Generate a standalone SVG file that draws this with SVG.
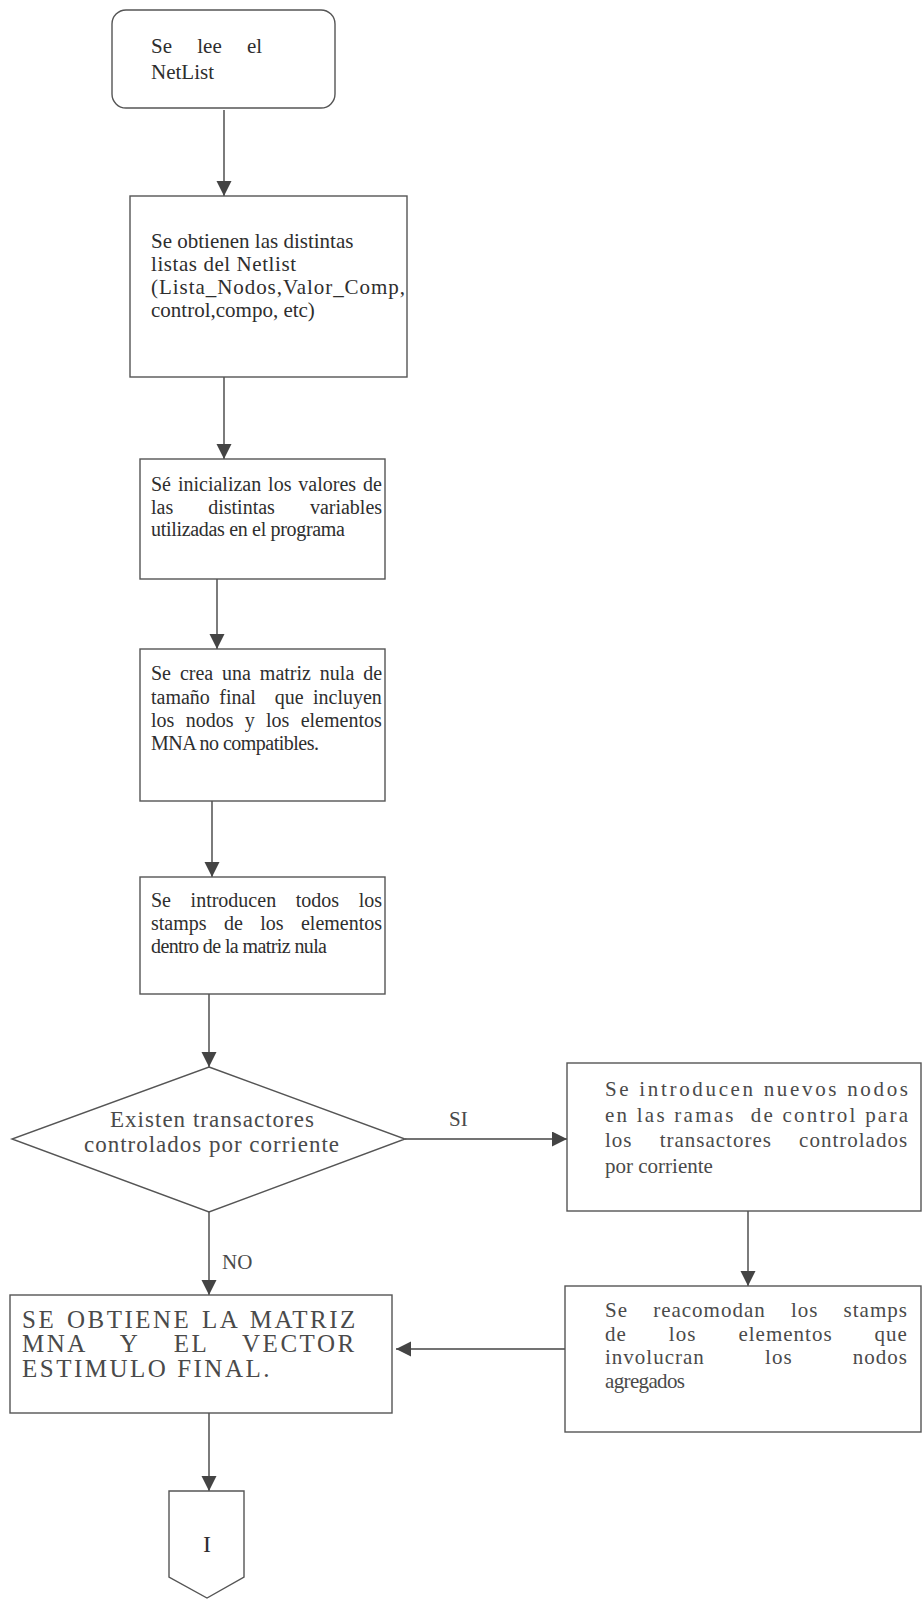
<svg xmlns="http://www.w3.org/2000/svg" width="923" height="1599" viewBox="0 0 923 1599">
<defs>
<style>
.box{fill:#fff;stroke:#555;stroke-width:1.4}
.t{font-family:"Liberation Serif","Times New Roman",serif;font-size:21px;fill:#2e2e2e}
.t2{font-family:"Liberation Serif","Times New Roman",serif;font-size:20px;fill:#2e2e2e}
.tl{font-family:"Liberation Serif","Times New Roman",serif;font-size:21px;fill:#4a4a4a}
.cap{font-family:"Liberation Serif","Times New Roman",serif;font-size:25px;fill:#4a4a4a;letter-spacing:2.5px}
.c{stroke:#444;stroke-width:1.4;fill:none;marker-end:url(#ah)}
</style>
<marker id="ah" markerUnits="userSpaceOnUse" markerWidth="16" markerHeight="16" refX="15" refY="7.5" orient="auto">
<path d="M0,0 L15,7.5 L0,15 z" fill="#444"/>
</marker>
</defs>
<rect width="923" height="1599" fill="#fff"/>

<g id="connectors">
<line class="c" x1="224" y1="110" x2="224" y2="196"/>
<line class="c" x1="224" y1="377" x2="224" y2="459"/>
<line class="c" x1="217" y1="579" x2="217" y2="649"/>
<line class="c" x1="212" y1="801" x2="212" y2="877"/>
<line class="c" x1="209" y1="994" x2="209" y2="1067"/>
<line class="c" x1="405" y1="1139" x2="567" y2="1139"/>
<line class="c" x1="209" y1="1212" x2="209" y2="1295"/>
<line class="c" x1="748" y1="1211" x2="748" y2="1286"/>
<line class="c" x1="565" y1="1349" x2="396" y2="1349"/>
<line class="c" x1="209" y1="1413" x2="209" y2="1491"/>
<text class="tl" x="449" y="1126">SI</text>
<text class="tl" x="222" y="1269">NO</text>
</g>

<g id="start">
<rect class="box" x="112" y="10" width="223" height="98" rx="14"/>
<text class="t" x="151" y="53" word-spacing="20">Se lee el</text>
<text class="t" x="151" y="79">NetList</text>
</g>

<g id="listas">
<rect class="box" x="130" y="196" width="277" height="181"/>
<text class="t" x="151" y="248">Se obtienen las distintas</text>
<text class="t" x="151" y="271" textLength="145" lengthAdjust="spacing">listas del Netlist</text>
<text class="t" x="151" y="294" textLength="254" lengthAdjust="spacing">(Lista_Nodos,Valor_Comp,</text>
<text class="t" x="151" y="317">control,compo, etc)</text>
</g>

<g id="inicializa">
<rect class="box" x="140" y="459" width="245" height="120"/>
<text class="t2" x="151" y="491" word-spacing="1.9">Sé inicializan los valores de</text>
<text class="t2" x="151" y="514" word-spacing="30">las distintas variables</text>
<text class="t2" x="151" y="536" textLength="194" lengthAdjust="spacing">utilizadas en el programa</text>
</g>

<g id="matriz-nula">
<rect class="box" x="140" y="649" width="245" height="152"/>
<text class="t2" x="151" y="680" word-spacing="3.9">Se crea una matriz nula de</text>
<text class="t2" x="151" y="704" word-spacing="4.4" xml:space="preserve">tamaño final  que incluyen</text>
<text class="t2" x="151" y="727" word-spacing="6.3">los nodos y los elementos</text>
<text class="t2" x="151" y="750" textLength="168" lengthAdjust="spacing">MNA no compatibles.</text>
</g>

<g id="stamps">
<rect class="box" x="140" y="877" width="245" height="117"/>
<text class="t2" x="151" y="907" word-spacing="14.6">Se introducen todos los</text>
<text class="t2" x="151" y="930" word-spacing="12.4">stamps de los elementos</text>
<text class="t2" x="151" y="953" textLength="176" lengthAdjust="spacing">dentro de la matriz nula</text>
</g>

<g id="decision">
<polygon class="box" points="209,1067 405,1139 209,1212 12,1139"/>
<text class="tl" x="110" y="1127" textLength="204" lengthAdjust="spacing" style="font-size:23px">Existen transactores</text>
<text class="tl" x="84" y="1152" textLength="255" lengthAdjust="spacing" style="font-size:23px">controlados por corriente</text>
</g>

<g id="nuevos-nodos">
<rect class="box" x="567" y="1063" width="354" height="148"/>
<text class="tl" x="605" y="1096" textLength="303" lengthAdjust="spacing">Se introducen nuevos nodos</text>
<text class="tl" x="605" y="1122" textLength="303" lengthAdjust="spacing" xml:space="preserve">en las ramas  de control para</text>
<text class="tl" x="605" y="1147" word-spacing="20.9" style="letter-spacing:1px">los transactores controlados</text>
<text class="tl" x="605" y="1173">por corriente</text>
</g>

<g id="reacomodan">
<rect class="box" x="565" y="1286" width="356" height="146"/>
<text class="tl" x="605" y="1317" word-spacing="18.9" style="letter-spacing:1px">Se reacomodan los stamps</text>
<text class="tl" x="605" y="1341" word-spacing="35.8" style="letter-spacing:1px">de los elementos que</text>
<text class="tl" x="605" y="1364" word-spacing="54" style="letter-spacing:1px">involucran los nodos</text>
<text class="tl" x="605" y="1388" textLength="80" lengthAdjust="spacing">agregados</text>
</g>

<g id="matriz-mna">
<rect class="box" x="10" y="1295" width="382" height="118"/>
<text class="cap" x="22" y="1328" word-spacing="2">SE OBTIENE LA MATRIZ</text>
<text class="cap" x="22" y="1352" word-spacing="25.5">MNA Y EL VECTOR</text>
<text class="cap" x="22" y="1377">ESTIMULO FINAL.</text>
</g>

<g id="conector-1">
<polygon class="box" points="169,1491 244,1491 244,1577 207,1598 169,1577"/>
<text class="t" x="207" y="1552" text-anchor="middle" style="font-size:24px">I</text>
</g>
</svg>
